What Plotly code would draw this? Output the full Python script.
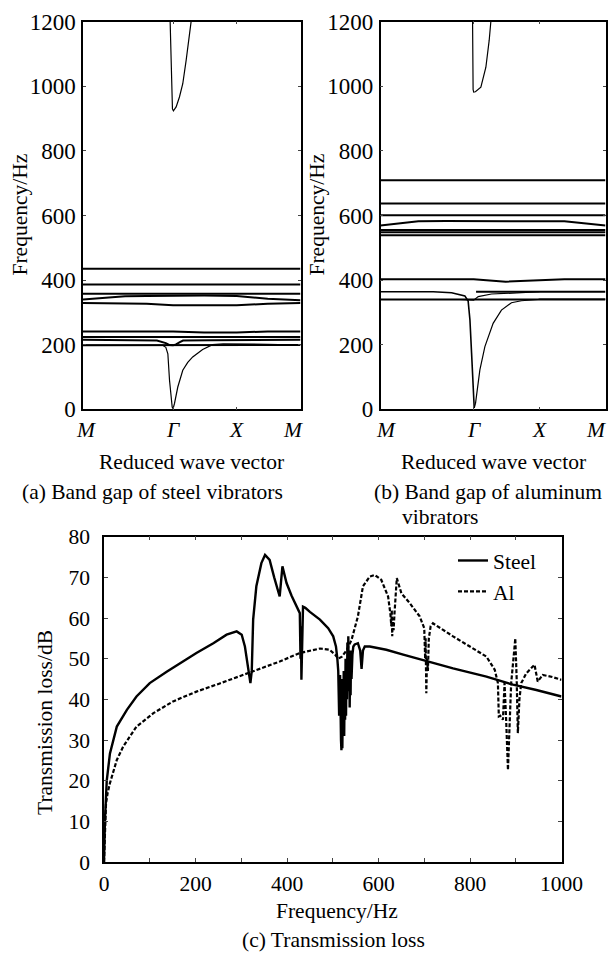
import plotly.graph_objects as go

# ---------------- data ----------------
# k-path positions (square lattice): M -> Gamma -> X -> M
K_TICKS = [0.0, 1.414, 2.414, 3.414]
K_LABELS = ["M", "Γ", "X", "M"]
FREQ_TICKS = [0, 200, 400, 600, 800, 1000, 1200]

# (a) steel vibrators: nearly flat bands
A_FLAT_K = [0.0, 0.66, 1.0, 1.414, 1.9, 2.414, 2.9, 3.414]
A_FLAT_F = [
    [435, 435, 435, 435, 435, 435, 435, 435],
    [386, 386, 386, 386, 386, 386, 386, 386],
    [358, 358, 358, 358, 358, 358, 358, 358],
    [340, 350, 351, 352, 352, 351, 342, 338],
    [329, 329, 327, 322, 322, 322, 327, 329],
    [241, 241, 241, 241, 238, 238, 241, 241],
    [224, 224, 224, 224, 224, 224, 224, 224],
    [198, 198, 198, 198, 198, 198, 198, 199],
]
A_V_K = [0.0, 0.7, 1.16, 1.30, 1.36, 1.414, 1.46, 1.52, 1.57, 2.0, 2.414, 2.9, 3.414]
A_V_F = [215, 215, 213, 205, 199, 198, 201, 208, 213, 214, 214, 215, 215]
A_AC_K = [0.0, 0.7, 1.1, 1.25, 1.30, 1.332, 1.358, 1.38, 1.40, 1.414, 1.436, 1.488,
          1.566, 1.644, 1.722, 1.878, 2.034, 2.2, 2.414, 2.9, 3.414]
A_AC_F = [199, 199, 199, 198, 192, 172, 90, 35, 7, 2, 18, 69,
          121, 145, 162, 185, 200, 203, 203, 201, 199]
A_UP_K = [1.368, 1.373, 1.383, 1.393, 1.404, 1.419, 1.462, 1.514, 1.566, 1.619, 1.671, 1.697]
A_UP_F = [1200, 1150, 1059, 960, 930, 924, 936, 967, 1008, 1080, 1163, 1200]

# (b) aluminum vibrators
B_FLAT_K = [0.0, 0.575, 1.0, 1.414, 1.9, 2.414, 2.79, 3.414]
B_FLAT_F = [
    [709, 709, 709, 709, 709, 709, 709, 709],
    [637, 637, 637, 637, 637, 637, 637, 637],
    [601, 601, 601, 601, 601, 601, 601, 601],
    [569, 582, 583, 583, 583, 583, 582, 569],
    [555, 555, 555, 555, 555, 555, 555, 555],
    [548, 548, 548, 546, 546, 548, 548, 548],
    [539, 539, 539, 539, 539, 539, 539, 539],
    [403, 403, 403, 403, 395, 400, 403, 403],
    [340, 340, 340, 340, 340, 340, 340, 340],
]
B_FLAT2_K = [1.45, 2.414, 3.414]
B_FLAT2_F = [364, 364, 364]
B_LEFT_K = [0.0, 0.8, 1.079, 1.28, 1.33, 1.357, 1.382, 1.407, 1.422]
B_LEFT_F = [364, 364, 361, 351, 335, 277, 174, 70, 4]
B_AC_K = [1.422, 1.442, 1.508, 1.584, 1.709, 1.835, 1.987, 2.138, 2.39, 2.414, 3.414]
B_AC_F = [4, 19, 122, 194, 266, 307, 330, 336, 340, 341, 341]
B_VR_K = [1.2, 1.38, 1.414, 1.483, 1.684, 2.138, 2.414]
B_VR_F = [340, 339, 338, 349, 357, 361, 364]
B_UP_K = [1.397, 1.399, 1.405, 1.414, 1.44, 1.523, 1.599, 1.649, 1.674]
B_UP_F = [1200, 1100, 990, 982, 983, 997, 1059, 1142, 1200]

# (c) transmission loss
STEEL_F = [0, 2, 6, 13, 28, 50, 71, 100, 137, 166, 202, 239, 268, 290, 301, 308, 315, 320,
           323, 326, 333, 344, 352, 362, 372, 377, 384, 390, 399, 410, 421, 428, 429.5, 430.5,
           431.5, 433, 435, 440, 450, 472, 490, 501, 507, 510, 512, 514, 516, 518, 519, 520,
           521, 522, 523, 524, 525, 526, 527, 528, 529, 530, 531, 532, 533, 534, 535, 536,
           537, 538, 539, 540, 541, 543, 545, 548, 555, 560, 563, 566, 570, 581, 617, 654,
           697, 763, 836, 894, 945, 1000]
STEEL_TL = [0, 10, 20, 26.7, 33.3, 37.4, 40.7, 44, 46.8, 48.9, 51.4, 53.8, 55.9, 56.7, 55.9,
            53, 48, 44, 47, 59.6, 67.8, 73.5, 75.5, 74.3, 70, 67.8, 65.3, 72.7, 68.6, 65.5,
            62.8, 61.2, 50, 58, 44.8, 55, 62.8, 62.5, 61.5, 59.6, 57.5, 55.5, 53, 50, 47, 36,
            46, 30, 27.5, 45, 28, 40, 33, 47, 31, 44, 35, 50, 36, 48, 40, 54, 42, 55.5, 44, 52,
            38, 50, 41, 52, 45, 51, 53, 53.5, 53.8, 52, 47.5, 52, 53, 53, 52.2, 51, 49.7, 47.6,
            45.6, 43.6, 42.3, 40.7]
AL_F = [0, 2, 4.4, 8, 13, 28, 42, 71, 108, 151, 202, 253, 304, 326, 384, 428, 472, 493,
        505, 512, 520, 530, 541, 555, 566, 581, 592, 606, 621, 626, 628, 629, 630, 631, 633,
        635, 637, 640, 650, 668, 690, 697, 700, 702, 703, 704.5, 706, 708, 710, 714, 719,
        763, 799, 836, 854, 861, 863, 866, 872, 875.5, 879, 883, 887, 890, 895, 899, 902,
        904.6, 908, 912, 923, 941, 948, 959, 980, 1000]
AL_TL = [0, 8, 14.4, 17, 19.4, 25.1, 28.4, 33.3, 36.6, 39.5, 41.9, 43.9, 46, 46.8, 49.3,
         51.4, 52.5, 52.2, 51, 50, 50.5, 52, 54.6, 60.4, 67.8, 70.2, 70.6, 69.4, 65.3, 61, 58,
         62, 55.5, 60, 57, 61.2, 66, 69.8, 66.1, 63.7, 60.4, 58.5, 57.5, 50, 55, 41.5, 50, 47,
         55, 58, 58.7, 55.5, 53, 50.5, 47.3, 44, 35.8, 36, 35, 44, 35, 22.6, 35, 44, 50, 55,
         45, 31.7, 40, 44, 46.4, 48.5, 44.4, 46, 45.5, 44.8]
TL_X_TICKS = [0, 100, 200, 300, 400, 500, 600, 700, 800, 900, 1000]
TL_X_TEXT = ["0", "", "200", "", "400", "", "600", "", "800", "", "1000"]
TL_Y_TICKS = [0, 10, 20, 30, 40, 50, 60, 70, 80]

# ---------------- figure ----------------
W, H = 608, 956
FONT = "'Liberation Serif', 'Times New Roman', Times, 'DejaVu Serif', serif"
FS = 21.5
FS_BAND_TICK = 23


def px_x(p):
    return p / W


def px_y(p):
    return 1 - p / H


fig = go.Figure()

FLAT_W = 2.0
THIN_W = 1.2


def band(xs, ys, xa, ya, w):
    fig.add_trace(go.Scatter(x=xs, y=ys, mode="lines", line=dict(color="black", width=w),
                             showlegend=False, xaxis=xa, yaxis=ya, hoverinfo="skip"))


for fvals in A_FLAT_F:
    band(A_FLAT_K, fvals, "x", "y", FLAT_W)
band(A_V_K, A_V_F, "x", "y", FLAT_W)
band(A_AC_K, A_AC_F, "x", "y", THIN_W)
band(A_UP_K, A_UP_F, "x", "y", THIN_W)

for fvals in B_FLAT_F:
    band(B_FLAT_K, fvals, "x2", "y2", FLAT_W)
band(B_FLAT2_K, B_FLAT2_F, "x2", "y2", FLAT_W)
band(B_LEFT_K, B_LEFT_F, "x2", "y2", 1.6)
band(B_AC_K, B_AC_F, "x2", "y2", THIN_W)
band(B_VR_K, B_VR_F, "x2", "y2", THIN_W)
band(B_UP_K, B_UP_F, "x2", "y2", THIN_W)

fig.add_trace(go.Scatter(x=STEEL_F, y=STEEL_TL, mode="lines", name="Steel",
                         line=dict(color="black", width=2.4), xaxis="x3", yaxis="y3"))
fig.add_trace(go.Scatter(x=AL_F, y=AL_TL, mode="lines", name="Al",
                         line=dict(color="black", width=2.2, dash="4px,2px"), xaxis="x3", yaxis="y3"))

tickfont = dict(family=FONT, size=FS, color="black")
band_x = dict(range=[0, 3.414], tickvals=K_TICKS, showticklabels=False, ticks="inside", ticklen=3,
              showline=True, linecolor="black", linewidth=1.5, mirror="ticks", showgrid=False,
              zeroline=False, automargin=False)
band_y = dict(range=[0, 1200], tickvals=FREQ_TICKS, ticks="inside", ticklen=3, showline=True,
              linecolor="black", linewidth=1.5, mirror="ticks", showgrid=False, zeroline=False,
              tickfont=dict(family=FONT, size=FS_BAND_TICK, color="black"), ticklabelstandoff=1,
              automargin=False)

A_X = [px_x(83), px_x(300.5)]
B_X = [px_x(380.5), px_x(605.5)]
AB_Y = [px_y(409.3), px_y(21.7)]
C_X = [px_x(104), px_x(561.5)]
C_Y = [px_y(862), px_y(536.7)]

fig.update_layout(
    width=W, height=H, autosize=False,
    margin=dict(l=0, r=0, t=0, b=0, pad=0, autoexpand=False),
    paper_bgcolor="white", plot_bgcolor="white",
    font=dict(family=FONT, size=FS, color="black"),
    xaxis=dict(domain=A_X, anchor="y", **band_x),
    yaxis=dict(domain=AB_Y, anchor="x", **band_y),
    xaxis2=dict(domain=B_X, anchor="y2", **band_x),
    yaxis2=dict(domain=AB_Y, anchor="x2", **band_y),
    xaxis3=dict(domain=C_X, anchor="y3", range=[0, 1000], tickvals=TL_X_TICKS, ticktext=TL_X_TEXT,
                ticks="inside", ticklen=4, showline=True, linecolor="black", linewidth=1.5,
                mirror="ticks", showgrid=False, zeroline=False, tickfont=tickfont,
                ticklabelstandoff=1, automargin=False),
    yaxis3=dict(domain=C_Y, anchor="x3", range=[0, 80], tickvals=TL_Y_TICKS, ticks="inside", ticklen=4,
                showline=True, linecolor="black", linewidth=1.5, mirror="ticks", showgrid=False,
                zeroline=False, tickfont=tickfont, ticklabelstandoff=8, automargin=False),
    legend=dict(x=px_x(453), y=px_y(540), xanchor="left", yanchor="top", bgcolor="rgba(0,0,0,0)",
                font=dict(family=FONT, size=FS, color="black"), itemwidth=30, tracegroupgap=0),
    showlegend=True,
)

ann = []
# k-point labels
for xa, shifts in (("x", [3, 0, 0, -8]), ("x2", [5, 0, 0, -10])):
    for k, lab, s in zip(K_TICKS, K_LABELS, shifts):
        ann.append(dict(x=k, y=px_y(430), xref=xa, yref="paper", text=f"<i>{lab}</i>", showarrow=False,
                        xanchor="center", yanchor="middle", xshift=s, font=dict(family=FONT, size=FS)))
# axis titles
for cx in (191.5, 493):
    ann.append(dict(x=px_x(cx), y=px_y(462), xref="paper", yref="paper", text="Reduced wave vector",
                    showarrow=False, xanchor="center", yanchor="middle", font=dict(family=FONT, size=FS)))
for cx in (19.5, 316.5):
    ann.append(dict(x=px_x(cx), y=px_y(215), xref="paper", yref="paper", text="Frequency/Hz",
                    textangle=-90, showarrow=False, xanchor="center", yanchor="middle",
                    font=dict(family=FONT, size=FS)))
ann.append(dict(x=px_x(45), y=px_y(723), xref="paper", yref="paper", text="Transmission loss/dB",
                textangle=-90, showarrow=False, xanchor="center", yanchor="middle",
                font=dict(family=FONT, size=FS)))
ann.append(dict(x=px_x(337), y=px_y(911), xref="paper", yref="paper", text="Frequency/Hz",
                showarrow=False, xanchor="center", yanchor="middle", font=dict(family=FONT, size=FS)))
# captions
ann.append(dict(x=px_x(152), y=px_y(492), xref="paper", yref="paper", text="(a) Band gap of steel vibrators",
                showarrow=False, xanchor="center", yanchor="middle", font=dict(family=FONT, size=FS)))
ann.append(dict(x=px_x(372), y=px_y(492), xref="paper", yref="paper", text="(b) Band gap of aluminum",
                showarrow=False, xanchor="left", yanchor="middle", font=dict(family=FONT, size=FS)))
ann.append(dict(x=px_x(400), y=px_y(517), xref="paper", yref="paper", text="vibrators",
                showarrow=False, xanchor="left", yanchor="middle", font=dict(family=FONT, size=FS)))
ann.append(dict(x=px_x(333), y=px_y(940), xref="paper", yref="paper", text="(c) Transmission loss",
                showarrow=False, xanchor="center", yanchor="middle", font=dict(family=FONT, size=FS)))
fig.update_layout(annotations=ann)

# remove the browser's default page margin so the 608x956 figure fills the window exactly
fig.write_html("out.html", config={"displayModeBar": False},
               post_script="document.body.style.margin='0px';document.body.style.overflow='hidden';")
